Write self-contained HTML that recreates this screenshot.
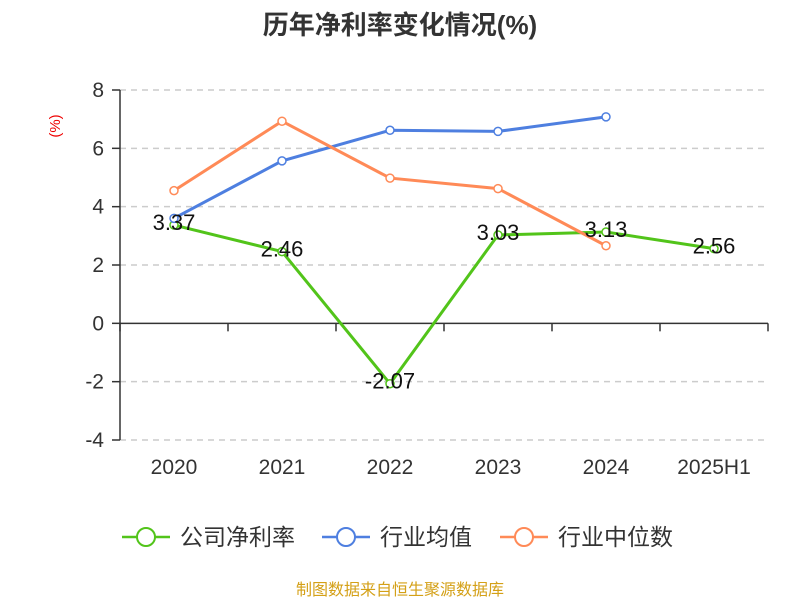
<!DOCTYPE html>
<html><head><meta charset="utf-8"><style>
body{margin:0;background:#fff;}
svg{font-family:"Liberation Sans","Noto Sans CJK SC",sans-serif;}
</style></head><body>
<svg id="chart" width="800" height="600">
<text x="400" y="34" text-anchor="middle" font-size="26" font-weight="bold" fill="#333">历年净利率变化情况(%)</text>
<text x="60" y="126" text-anchor="middle" font-size="15" fill="#e00" transform="rotate(-90 60 126)">(%)</text>
<g id="grid"></g><g id="axes"></g><g id="series"></g><g id="labels"></g>
<g>
<g><line x1="122" y1="537" x2="170" y2="537" stroke="#52c41a" stroke-width="2.5"/><circle cx="146" cy="537" r="9" fill="#fff" stroke="#52c41a" stroke-width="2"/><text x="180" y="545" font-size="23" fill="#333">公司净利率</text></g>
<g><line x1="322" y1="537" x2="370" y2="537" stroke="#4e7fe0" stroke-width="2.5"/><circle cx="346" cy="537" r="9" fill="#fff" stroke="#4e7fe0" stroke-width="2"/><text x="380" y="545" font-size="23" fill="#333">行业均值</text></g>
<g><line x1="500" y1="537" x2="548" y2="537" stroke="#ff8a57" stroke-width="2.5"/><circle cx="524" cy="537" r="9" fill="#fff" stroke="#ff8a57" stroke-width="2"/><text x="558" y="545" font-size="23" fill="#333">行业中位数</text></g>
</g>
<text x="400" y="595" text-anchor="middle" font-size="16" fill="#d4a017">制图数据来自恒生聚源数据库</text>
</svg>
<script>
const categories=["2020","2021","2022","2023","2024","2025H1"];
const companyValues=[3.37,2.46,-2.07,3.03,3.13,2.56];
const industryAvg=[3.6,5.57,6.62,6.58,7.08];
const industryMedian=[4.55,6.93,4.98,4.62,2.66];
const yTicks=[-4,-2,0,2,4,6,8];
const NS="http://www.w3.org/2000/svg";
const x0=120,x1=768,yTop=90,yBot=440,yMin=-4,yMax=8;
const bw=(x1-x0)/categories.length;
const xs=i=>x0+bw*(i+0.5);
const ys=v=>yBot-(v-yMin)/(yMax-yMin)*(yBot-yTop);
function mk(tag,attrs,parent,txt){const e=document.createElementNS(NS,tag);for(const k in attrs)e.setAttribute(k,attrs[k]);if(txt!==undefined)e.textContent=txt;document.getElementById(parent).appendChild(e);return e;}
yTicks.forEach(t=>{
  const y=ys(t);
  if(t!==0){const g=mk('line',{x1:x0,x2:x1,y1:y,y2:y,stroke:'#ccc','stroke-dasharray':'6,5','stroke-width':1.5},'grid');
  
  }
  const tk=mk('line',{x1:x0-8,x2:x0,y1:y,y2:y,stroke:'#333','stroke-width':1.5},'axes');
  
  
  const l=mk('text',{x:x0-16,y:y+7,'text-anchor':'end','font-size':21,fill:'#333'},'axes',String(t));
  
  
});
const ya=mk('line',{x1:x0,x2:x0,y1:yTop,y2:yBot,stroke:'#333','stroke-width':1.5},'axes');


const xa=mk('line',{x1:x0,x2:x1,y1:ys(0),y2:ys(0),stroke:'#333','stroke-width':1.5},'axes');


for(let i=0;i<=categories.length;i++){
  const x=x0+bw*i;
  const t=mk('line',{x1:x,x2:x,y1:ys(0),y2:ys(0)+8,stroke:'#333','stroke-width':1.5},'axes');
  
  
}
categories.forEach((c,i)=>{
  const t=mk('text',{x:xs(i),y:474,'text-anchor':'middle','font-size':21,fill:'#333'},'axes',c);
  
  
});
function series(vals,color,name){
  const pts=vals.map((v,i)=>xs(i)+','+ys(v)).join(' ');
  const p=mk('polyline',{points:pts,fill:'none',stroke:color,'stroke-width':3},'series');
  
  
  vals.forEach((v,i)=>{
    const c=mk('circle',{cx:xs(i),cy:ys(v),r:4,fill:'#fff',stroke:color,'stroke-width':1.5},'series');
    
    
  });
}
series(companyValues,'#52c41a','company');
series(industryAvg,'#4e7fe0','industry-avg');
series(industryMedian,'#ff8a57','industry-median');
companyValues.forEach((v,i)=>{
  const t=mk('text',{x:xs(i),y:ys(v)+5,'text-anchor':'middle','font-size':22,fill:'#111'},'labels',v.toFixed(2));
  
  
});
</script>
</body></html>
